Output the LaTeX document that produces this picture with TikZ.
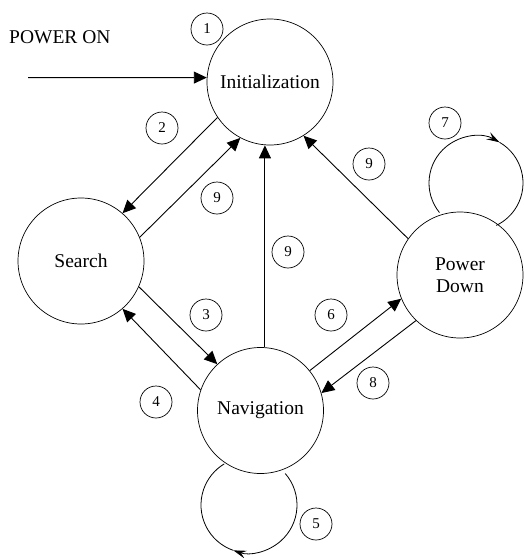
\documentclass[tikz,border=0pt]{standalone}
\usepackage{fontspec}
\setmainfont{Liberation Serif}
\usetikzlibrary{arrows.meta}

\begin{document}
\begin{tikzpicture}[
  x=1pt,y=1pt,
  statenode/.style={draw,circle,line width=0.7pt,minimum size=126pt,inner sep=0pt,align=center,font={\fontsize{19.5}{22}\selectfont}},
  numnode/.style={draw,circle,line width=0.7pt,minimum size=32pt,inner sep=0pt,font={\fontsize{15}{15}\selectfont}},
  trans/.style={line width=0.9pt,-{Triangle[length=13pt,width=12pt]}},
  loopline/.style={line width=0.8pt},
  looptip/.style={-{Stealth[length=13pt,width=8pt,inset=5pt]}}
]
\useasboundingbox (0,0) rectangle (524,-558);
\node[statenode] (I) at (270,-82) {Initialization};
\node[statenode] (S) at (81,-261) {Search};
\node[statenode] (N) at (260.5,-410.5) {Navigation};
\node[statenode] (P) at (460,-275) {Power\\Down};
\node[anchor=base west,inner sep=0pt,font={\fontsize{19.5}{22}\selectfont}] (pwr) at (9,-43) {POWER ON};
\coordinate (src) at (28,-77.6);
\coordinate (L5) at (249,-505);
\coordinate (L7) at (476,-183);
% transitions
\draw[trans] (src) -- (I.176);
\draw[trans] (I.214) -- (S.49);
\draw[trans] (S.22) -- (I.242);
\draw[trans] (S.336) -- (N.133);
\draw[trans] (N.161.6) -- (S.311.5);
\draw[trans] (N.86) -- (N.86 |- I.south);
\draw[trans] (N.39.4) -- (P.202);
\draw[trans] (P.226) -- (N.16);
\draw[trans] (P.145) -- (I.302.7);
% self loops
\draw[loopline,looptip] (L5) ++(41:48) arc[start angle=41,end angle=-109,radius=48];
\draw[loopline] (L5) ++(-109:48) arc[start angle=-109,end angle=-239,radius=48];
\draw[loopline,looptip] (L7) ++(219:47) arc[start angle=219,end angle=60,radius=47];
\draw[loopline] (L7) ++(60:47) arc[start angle=60,end angle=-64.5,radius=47];
% numbers
\node[numnode] (n1) at (207,-29) {1};
\node[numnode] (n2) at (162,-128) {2};
\node[numnode] (n9a) at (217,-198) {9};
\node[numnode] (n3) at (206,-315) {3};
\node[numnode] (n9b) at (288,-252) {9};
\node[numnode] (n9c) at (369,-164) {9};
\node[numnode] (n7) at (445,-123) {7};
\node[numnode] (n6) at (331,-315) {6};
\node[numnode] (n8) at (373,-383) {8};
\node[numnode] (n4) at (156,-402) {4};
\node[numnode] (n5) at (316,-524) {5};
\end{tikzpicture}
\end{document}
